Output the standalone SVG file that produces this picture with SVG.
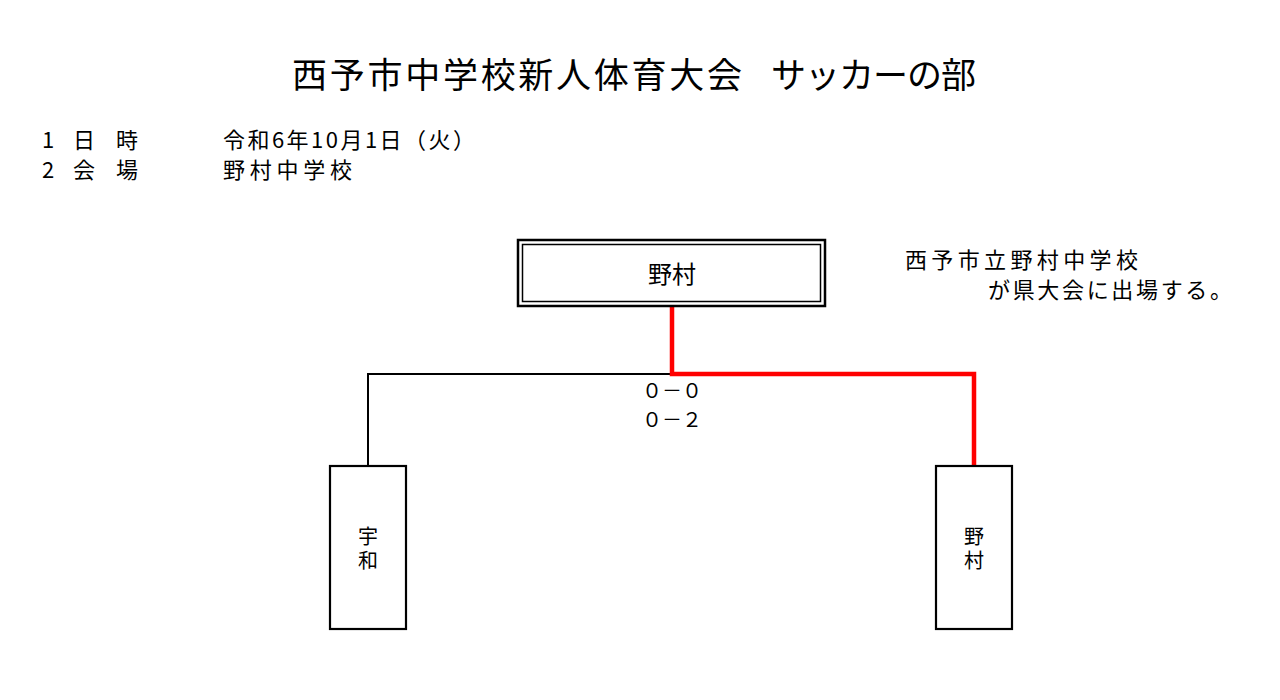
<svg xmlns="http://www.w3.org/2000/svg" width="1280" height="700" viewBox="0 0 1280 700">
<style>
text{font-family:"Noto Sans CJK JP","Noto Sans",sans-serif;fill:#000}
.box{fill:#fff;stroke:#000;stroke-width:2.2}
.blk{fill:none;stroke:#000;stroke-width:2}
.red{fill:none;stroke:#ff0000;stroke-width:4.5}
.t{font-size:22px}
.v{font-size:20px;writing-mode:tb;letter-spacing:4.5px}
</style>
<rect width="1280" height="700" fill="#fff"/>
<g id="title">
<text x="292" y="88" font-size="35" textLength="450" lengthAdjust="spacing">西予市中学校新人体育大会</text>
<text x="771" y="88" font-size="35" textLength="205" lengthAdjust="spacing">サッカーの部</text>
</g>
<g id="info" class="t">
<text x="42" y="148">1</text>
<text x="73" y="148">日</text>
<text x="116" y="148">時</text>
<text x="223" y="148" textLength="252" lengthAdjust="spacing">令和6年10月1日（火）</text>
<text x="42" y="178">2</text>
<text x="73" y="178">会</text>
<text x="116" y="178">場</text>
<text x="223" y="178" textLength="129" lengthAdjust="spacing">野村中学校</text>
</g>
<g id="note" class="t">
<text x="905" y="268" textLength="233" lengthAdjust="spacing">西予市立野村中学校</text>
<text x="988" y="298" textLength="244" lengthAdjust="spacing">が県大会に出場する。</text>
</g>
<g id="connectors">
<polyline class="blk" points="368,466 368,374 672,374"/>
<polyline class="red" points="672,306 672,374 974,374 974,466"/>
</g>
<g id="winner">
<rect x="518" y="240" width="307" height="66" fill="#fff" stroke="#000" stroke-width="2.5"/>
<rect x="522.5" y="244.5" width="298" height="57" fill="none" stroke="#000" stroke-width="1.5"/>
<text x="672" y="283" font-size="24" text-anchor="middle">野村</text>
</g>
<g id="scores" style="font-size:20px">
<text x="672" y="398" text-anchor="middle">０－０</text>
<text x="672" y="427" text-anchor="middle">０－２</text>
</g>
<g id="team-uwa">
<rect class="box" x="330" y="466" width="76" height="163"/>
<text class="v" x="368" y="526">宇和</text>
</g>
<g id="team-nomura">
<rect class="box" x="936" y="466" width="76" height="163"/>
<text class="v" x="974" y="526">野村</text>
</g>
</svg>
